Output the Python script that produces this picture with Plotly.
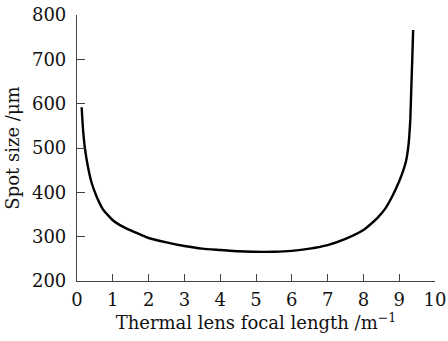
import plotly.graph_objects as go

focal = [0.13, 0.17, 0.22, 0.30, 0.41, 0.55, 0.73, 1.0, 1.2, 1.5, 1.76, 2.0, 2.5, 3.0, 3.5,
         4.0, 4.5, 4.9, 5.5, 6.0, 6.5, 7.0, 7.5, 8.0, 8.2, 8.4, 8.6, 8.8, 9.0, 9.1, 9.19,
         9.25, 9.28, 9.31, 9.34, 9.37, 9.39]
spot = [592, 540, 500, 460, 421, 390, 361, 337, 326, 314, 305, 297, 287, 279, 273,
        270, 267, 266, 266, 268, 273, 281, 295, 315, 328, 343, 362, 390, 425, 446, 470,
        500, 525, 564, 639, 714, 766]

x_ticks = list(range(0, 11))
y_ticks = list(range(200, 801, 100))

font = dict(family="DejaVu Serif", size=18, color="#111")

fig = go.Figure()
fig.add_trace(go.Scatter(x=focal, y=spot, mode="lines",
                         line=dict(color="black", width=2.4, shape="spline", smoothing=0.5)))

fig.update_layout(
    width=448, height=341,
    margin=dict(l=77, r=13, t=15, b=60),
    paper_bgcolor="white", plot_bgcolor="white",
    showlegend=False,
    font=font,
)
fig.update_xaxes(range=[0, 10], tickvals=x_ticks, ticks="inside", ticklen=7,
                 tickcolor="#444", showline=True, linecolor="#444", linewidth=1.2,
                 showgrid=False, zeroline=False, tickfont=font, ticklabelstandoff=2,
                 automargin=False,
                 title=dict(text="Thermal lens focal length /m<sup>−1</sup>", font=font, standoff=2))
fig.update_yaxes(range=[200, 800], tickvals=y_ticks, ticks="inside", ticklen=8,
                 tickcolor="#444", showline=True, linecolor="#444", linewidth=1.2,
                 showgrid=False, zeroline=False, tickfont=font, ticklabelstandoff=6,
                 automargin=False,
                 title=dict(text="Spot size /μm", font=font, standoff=7))

fig.write_html("out.html")
